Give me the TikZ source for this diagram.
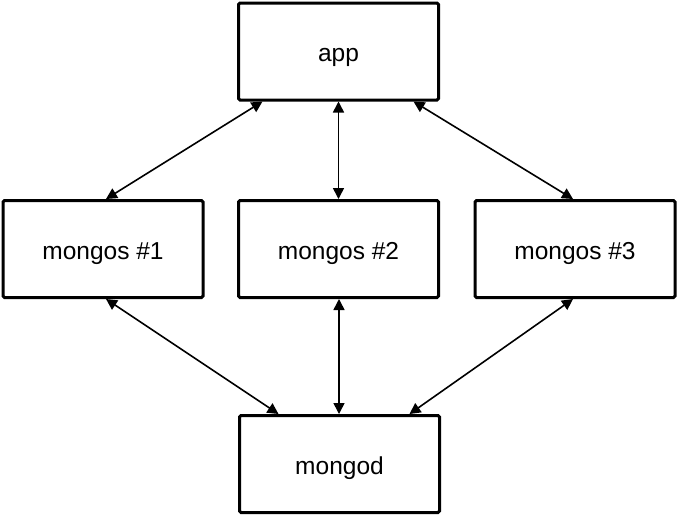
\documentclass[tikz,border=0pt]{standalone}
\usepackage{fontspec}
\setmainfont{Liberation Sans}
\usetikzlibrary{arrows.meta}

\tikzset{
    procbox/.style={draw, line width=3pt, rounded corners=1.5pt, minimum width=200pt, minimum height=97pt, font=\fontsize{24.5}{28}\selectfont, inner sep=0pt, text height=20pt, text depth=0pt},
    link/.style={line width=1.6pt, {Triangle[length=11pt,width=11pt]}-{Triangle[length=11pt,width=11pt]}}
}

\begin{document}
\begin{tikzpicture}[x=1pt, y=-1pt]
        \useasboundingbox (0,0) rectangle (677,515);

        % application on top
        \node[procbox] (app) at (338.5,51.5) {app};

        % router layer
        \node[procbox] (mongos1) at (103,249) {mongos \#1};
        \node[procbox] (mongos2) at (338.5,249) {mongos \#2};
        \node[procbox] (mongos3) at (575,249) {mongos \#3};

        % database server
        \node[procbox] (mongod) at (339.5,464) {mongod};

        % app to routers
        \draw[link] ([xshift=-76pt]app.south) -- ([xshift=3pt]mongos1.north);
        \draw[link] (app.south) -- (mongos2.north);
        \draw[link] ([xshift=75pt]app.south) -- ([xshift=-2pt]mongos3.north);

        % routers to mongod
        \draw[link] ([xshift=3pt]mongos1.south) -- ([xshift=-61pt]mongod.north);
        \draw[link] ([xshift=0.5pt]mongos2.south) -- ([xshift=-0.5pt]mongod.north);
        \draw[link] ([xshift=-2pt]mongos3.south) -- ([xshift=70pt]mongod.north);

    \end{tikzpicture}
\end{document}
